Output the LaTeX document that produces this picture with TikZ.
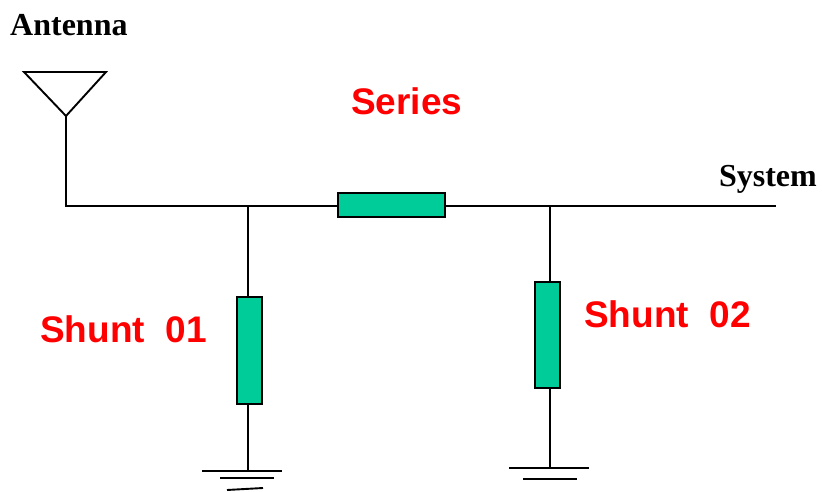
\documentclass[tikz,border=0pt]{standalone}
\usepackage{fontspec}
\setmainfont{Liberation Serif}
\newfontfamily\labelfont{Liberation Sans}
\tikzset{
    wire/.style={line width=1.9pt,black},
    element/.style={draw=black,line width=1.6pt,fill=elementgreen,inner sep=0pt},
    redlabel/.style={text=red,font=\labelfont\fontsize{37}{37}\selectfont\bfseries,inner sep=0pt},
    blacklabel/.style={text=black,font=\fontsize{32}{32}\selectfont\bfseries,inner sep=0pt}
}
\definecolor{elementgreen}{HTML}{00CC99}
\begin{document}
\begin{tikzpicture}[x=1pt,y=-1pt]
    \useasboundingbox (0,0) rectangle (822,492);

    \coordinate (antleft) at (24,72);
    \coordinate (antright) at (106,72);
    \coordinate (anttip) at (66,116);
    \coordinate (corner) at (66,206);
    \coordinate (tap1) at (248,206);
    \coordinate (tap2) at (550,206);
    \coordinate (lineend) at (776,206);
    \coordinate (gnd1) at (248,471);
    \coordinate (gnd2) at (550,468);

    \node[element,minimum width=107pt,minimum height=24pt] (series) at (391.5,205) {};
    \node[element,minimum width=25pt,minimum height=107pt] (shunt1) at (249.5,350.5) {};
    \node[element,minimum width=25pt,minimum height=106pt] (shunt2) at (547.5,335) {};

    \draw[wire,line join=miter] (antleft) -- (antright) -- (anttip) -- cycle;
    \draw[wire] (anttip) -- (corner) -- (series.west |- corner);
    \draw[wire] (series.east |- lineend) -- (lineend);
    \draw[wire] (tap1) -- (tap1 |- shunt1.north);
    \draw[wire] (tap1 |- shunt1.south) -- (gnd1);
    \draw[wire] (tap2) -- (tap2 |- shunt2.north);
    \draw[wire] (tap2 |- shunt2.south) -- (gnd2);

    % ground bars
    \draw[wire] (202,471) -- (282,471);
    \draw[wire] (220,478) -- (274,478);
    \draw[wire] (227,490) -- (263,488);
    \draw[wire] (509,468) -- (589,468);
    \draw[wire] (523,479) -- (577,479);

    \node[blacklabel,anchor=base west] (antenna) at (10,35.5) {Antenna};
    \node[blacklabel,anchor=base east] (system) at (817,186) {System};
    \node[redlabel,anchor=base west] (serieslabel) at (351,115) {Series};
    \node[redlabel,anchor=base west] (shuntlabel1) at (40,342) {Shunt\ \ 01};
    \node[redlabel,anchor=base west] (shuntlabel2) at (584,327) {Shunt\ \ 02};
\end{tikzpicture}
\end{document}
